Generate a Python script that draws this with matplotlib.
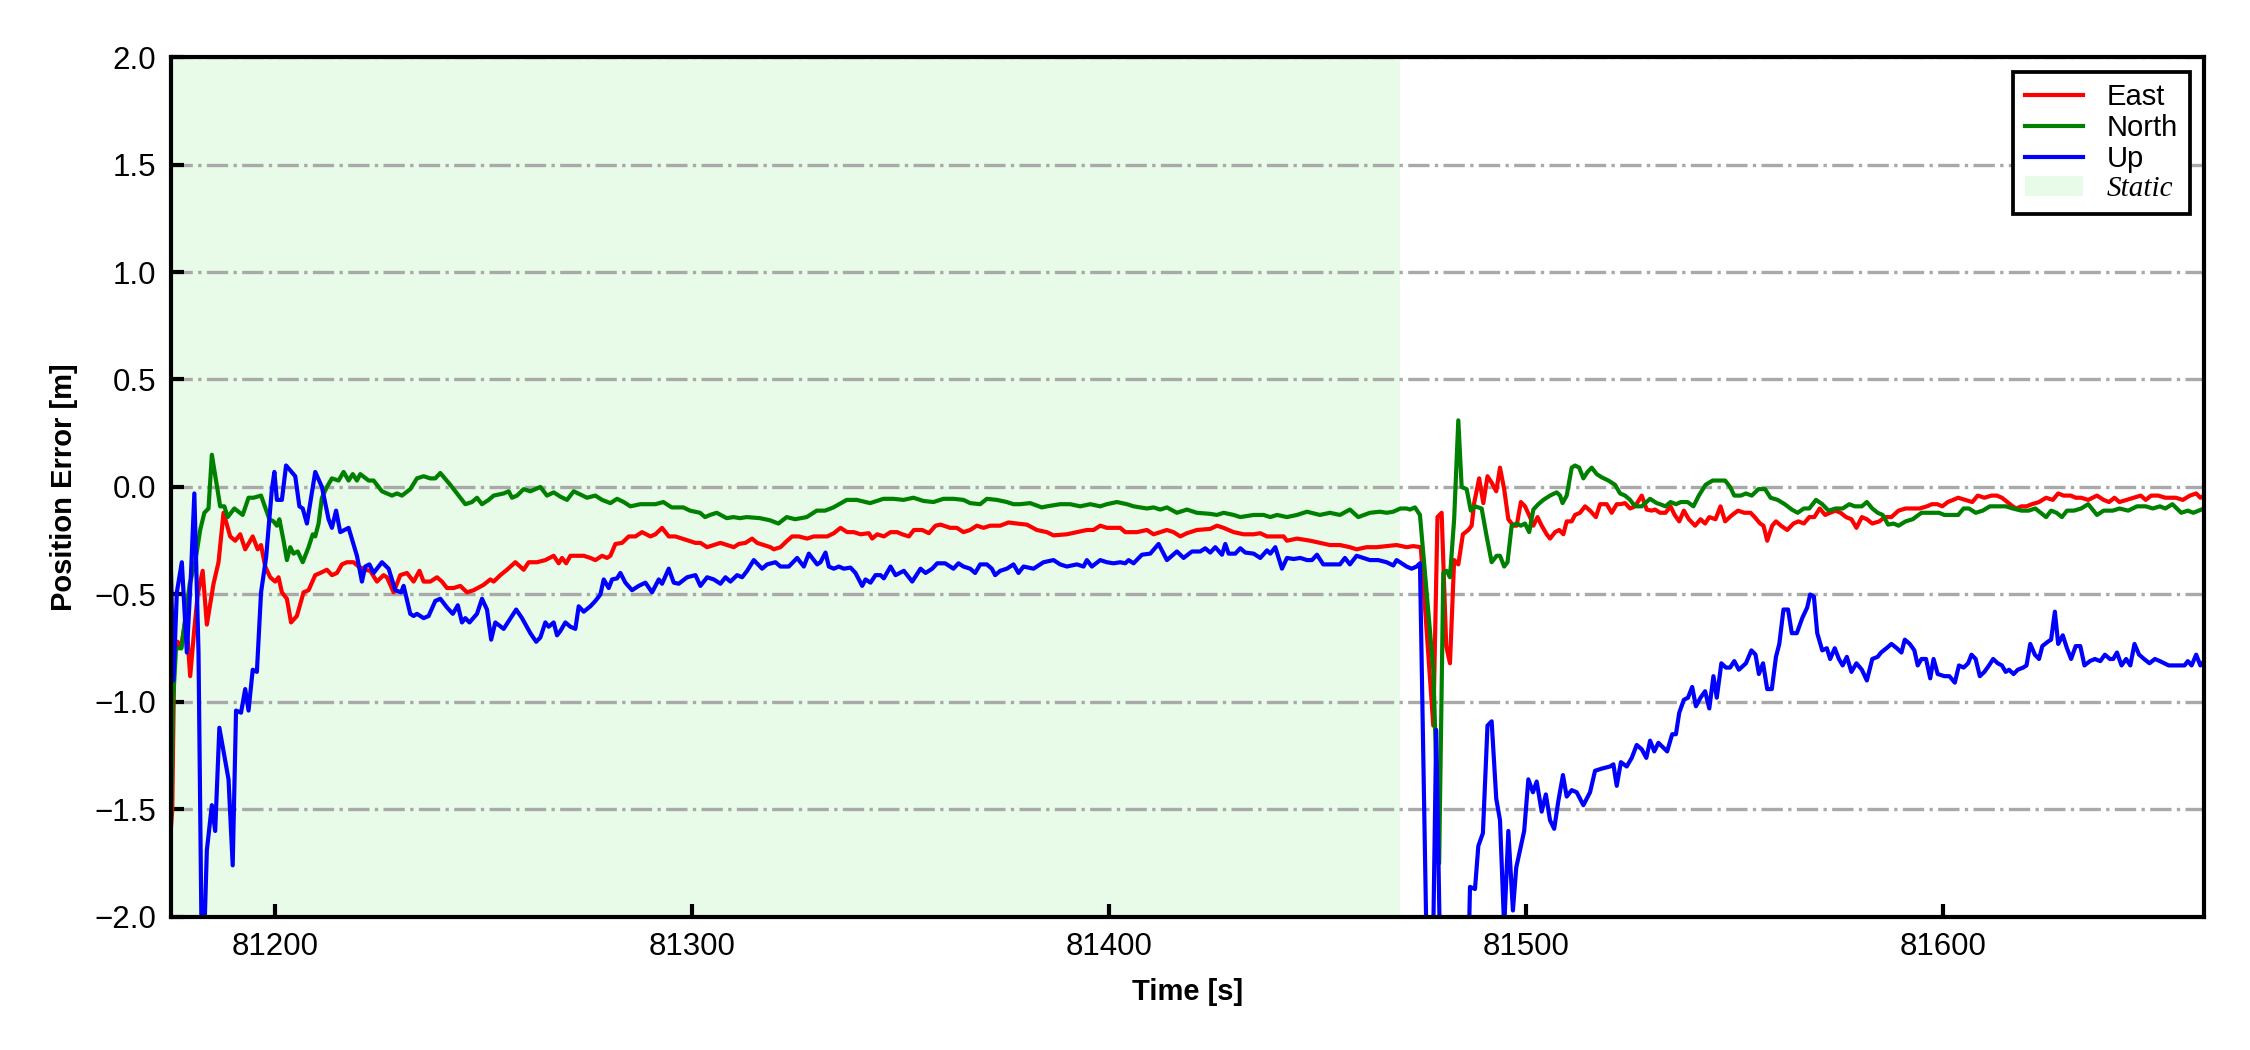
import matplotlib
matplotlib.use("Agg")
import matplotlib.pyplot as plt
from matplotlib.patches import Patch
from matplotlib.lines import Line2D

plt.rcParams["font.family"] = ["Liberation Sans", "DejaVu Sans"]

# ---- data ------------------------------------------------------------------
static_end = 81469.7

east_t = [
    81175.0, 81175.3, 81175.8, 81176.6, 81177.4, 81178.6, 81179.6, 81180.6, 81181.4, 81182.6,
    81183.6, 81185.2, 81186.4, 81187.6, 81189.2, 81190.4, 81191.6, 81192.8, 81194.6, 81195.8,
    81196.6, 81197.6, 81198.8, 81200.0, 81200.8, 81201.6, 81202.8, 81203.8, 81205.2, 81206.8,
    81208.0, 81209.6, 81210.8, 81212.4, 81213.6, 81214.8, 81216.0, 81217.2, 81218.8, 81220.0,
    81221.6, 81222.8, 81224.4, 81226.0, 81226.8, 81228.4, 81230.0, 81231.6, 81233.2, 81234.6,
    81235.6, 81237.2, 81238.8, 81240.0, 81241.2, 81242.8, 81244.4, 81246.0, 81247.6, 81250.0,
    81251.6, 81252.4, 81254.0, 81255.6, 81257.6, 81259.6, 81260.8, 81262.8, 81264.8, 81266.8,
    81268.0, 81268.8, 81269.8, 81270.8, 81272.4, 81274.0, 81275.6, 81276.8, 81278.4, 81279.6,
    81280.4, 81281.6, 81283.2, 81284.8, 81286.4, 81288.0, 81290.0, 81291.2, 81292.8, 81294.4,
    81296.0, 81297.6, 81299.2, 81300.8, 81302.0, 81303.6, 81305.2, 81306.8, 81308.4, 81310.0,
    81311.2, 81312.8, 81314.4, 81315.6, 81317.2, 81318.8, 81319.6, 81321.2, 81322.8, 81324.0,
    81325.6, 81327.6, 81329.2, 81330.8, 81332.4, 81334.0, 81335.6, 81337.2, 81338.8, 81340.4,
    81342.4, 81343.2, 81344.4, 81346.0, 81347.6, 81349.2, 81350.4, 81352.0, 81353.2, 81355.2,
    81356.8, 81358.4, 81359.6, 81361.9, 81363.5, 81365.1, 81366.7, 81368.3, 81369.9, 81371.5,
    81373.9, 81375.9, 81377.9, 81380.3, 81382.7, 81385.1, 81386.7, 81389.9, 81392.3, 81394.7,
    81396.3, 81397.9, 81399.5, 81402.7, 81403.9, 81406.7, 81409.1, 81410.7, 81412.3, 81413.9,
    81415.5, 81417.1, 81418.7, 81421.1, 81424.3, 81425.9, 81427.5, 81429.9, 81432.3, 81434.7,
    81436.3, 81437.9, 81440.3, 81441.9, 81442.7, 81445.1, 81448.3, 81450.6, 81453.0, 81455.4,
    81457.8, 81459.4, 81461.8, 81464.2, 81466.6, 81469.0, 81471.4, 81473.0, 81474.8, 81477.8,
    81478.8, 81479.8, 81480.9, 81481.8, 81482.8, 81483.8, 81484.9, 81486.2, 81487.0, 81487.6,
    81488.8, 81489.8, 81490.8, 81491.8, 81492.9, 81493.8, 81494.8, 81495.8, 81497.0, 81497.8,
    81498.8, 81499.8, 81501.0, 81501.8, 81502.8, 81503.8, 81505.0, 81505.8, 81507.0, 81508.0,
    81509.0, 81509.8, 81511.0, 81511.8, 81513.0, 81514.2, 81515.4, 81516.8, 81517.8, 81519.4,
    81520.6, 81521.8, 81522.7, 81523.8, 81525.0, 81526.2, 81527.8, 81529.0, 81530.2, 81531.0,
    81532.2, 81533.5, 81534.7, 81535.7, 81536.8, 81537.9, 81539.1, 81540.6, 81541.9, 81543.0,
    81544.0, 81545.5, 81546.7, 81547.8, 81549.5, 81550.9, 81552.4, 81553.9, 81554.9, 81556.2,
    81557.0, 81557.9, 81559.1, 81560.0, 81561.2, 81562.7, 81564.2, 81565.4, 81566.7, 81568.0,
    81569.2, 81570.5, 81571.8, 81573.0, 81574.3, 81575.5, 81576.8, 81578.1, 81579.3, 81580.6,
    81581.8, 81583.1, 81584.8, 81586.1, 81587.7, 81589.4, 81591.1, 81592.8, 81594.5, 81596.2,
    81597.4, 81598.7, 81599.9, 81601.2, 81602.5, 81603.7, 81605.4, 81607.1, 81608.4, 81610.0,
    81611.7, 81613.0, 81614.2, 81615.5, 81616.8, 81617.6, 81618.9, 81620.1, 81621.4, 81623.1,
    81624.8, 81626.4, 81627.7, 81629.0, 81630.7, 81631.9, 81633.2, 81634.9, 81637.0, 81638.6,
    81639.9, 81641.2, 81642.4, 81644.1, 81645.8, 81647.5, 81648.7, 81650.0, 81651.7, 81653.4,
    81654.6, 81655.9, 81657.6, 81659.3, 81660.8, 81661.8, 81662.7,
]
east = [
    -1.58, -1.50, -0.76, -0.72, -0.75, -0.60, -0.88, -0.66, -0.50, -0.39,
    -0.64, -0.45, -0.35, -0.12, -0.23, -0.25, -0.22, -0.29, -0.23, -0.29,
    -0.27, -0.37, -0.42, -0.44, -0.42, -0.49, -0.52, -0.63, -0.60, -0.49,
    -0.48, -0.41, -0.40, -0.385, -0.41, -0.40, -0.36, -0.35, -0.35, -0.37,
    -0.385, -0.39, -0.44, -0.41, -0.42, -0.49, -0.41, -0.40, -0.44, -0.39,
    -0.44, -0.44, -0.42, -0.44, -0.47, -0.47, -0.46, -0.49, -0.48, -0.455,
    -0.43, -0.44, -0.41, -0.385, -0.35, -0.385, -0.35, -0.35, -0.34, -0.32,
    -0.355, -0.33, -0.355, -0.32, -0.32, -0.32, -0.33, -0.34, -0.32, -0.33,
    -0.32, -0.265, -0.26, -0.23, -0.23, -0.21, -0.23, -0.22, -0.19, -0.23,
    -0.23, -0.24, -0.25, -0.26, -0.26, -0.28, -0.27, -0.26, -0.27, -0.28,
    -0.265, -0.26, -0.24, -0.26, -0.27, -0.28, -0.29, -0.28, -0.25, -0.23,
    -0.23, -0.24, -0.23, -0.23, -0.23, -0.215, -0.19, -0.21, -0.21, -0.22,
    -0.215, -0.24, -0.22, -0.23, -0.21, -0.21, -0.22, -0.23, -0.20, -0.20,
    -0.215, -0.18, -0.175, -0.19, -0.19, -0.21, -0.20, -0.18, -0.19, -0.18,
    -0.18, -0.165, -0.17, -0.175, -0.20, -0.21, -0.225, -0.22, -0.21, -0.20,
    -0.20, -0.18, -0.19, -0.19, -0.21, -0.21, -0.20, -0.22, -0.21, -0.20,
    -0.21, -0.23, -0.215, -0.20, -0.195, -0.18, -0.19, -0.21, -0.22, -0.22,
    -0.215, -0.23, -0.23, -0.23, -0.25, -0.24, -0.25, -0.26, -0.27, -0.27,
    -0.28, -0.29, -0.28, -0.28, -0.275, -0.27, -0.28, -0.275, -0.28, -1.11,
    -0.14, -0.12, -0.74, -0.82, -0.34, -0.36, -0.22, -0.20, -0.18, -0.075,
    0.04, -0.075, 0.05, 0.02, -0.02, 0.09, -0.01, -0.15, -0.18, -0.18,
    -0.07, -0.09, -0.14, -0.18, -0.14, -0.18, -0.22, -0.24, -0.21, -0.20,
    -0.22, -0.16, -0.16, -0.13, -0.12, -0.09, -0.11, -0.14, -0.08, -0.08,
    -0.12, -0.08, -0.08, -0.075, -0.10, -0.09, -0.04, -0.105, -0.11, -0.105,
    -0.12, -0.12, -0.09, -0.13, -0.16, -0.11, -0.15, -0.18, -0.15, -0.17,
    -0.14, -0.15, -0.09, -0.16, -0.13, -0.11, -0.12, -0.12, -0.14, -0.17,
    -0.18, -0.25, -0.18, -0.16, -0.18, -0.20, -0.17, -0.16, -0.17, -0.14,
    -0.14, -0.10, -0.13, -0.12, -0.11, -0.12, -0.14, -0.15, -0.19, -0.14,
    -0.15, -0.17, -0.16, -0.14, -0.14, -0.11, -0.10, -0.10, -0.10, -0.09,
    -0.08, -0.08, -0.09, -0.07, -0.06, -0.05, -0.06, -0.07, -0.04, -0.05,
    -0.04, -0.04, -0.05, -0.07, -0.09, -0.10, -0.09, -0.09, -0.08, -0.07,
    -0.05, -0.06, -0.03, -0.04, -0.04, -0.05, -0.05, -0.06, -0.04, -0.06,
    -0.07, -0.05, -0.07, -0.06, -0.05, -0.04, -0.06, -0.04, -0.04, -0.05,
    -0.05, -0.05, -0.06, -0.04, -0.03, -0.05, -0.04,
]

north_t = [
    81175.0, 81175.5, 81176.2, 81177.5, 81178.5, 81179.5, 81180.8, 81182.0, 81183.0, 81184.0,
    81184.8, 81185.8, 81186.8, 81187.8, 81188.6, 81190.2, 81192.2, 81193.6, 81194.8, 81196.6,
    81198.6, 81199.6, 81200.4, 81201.0, 81202.0, 81202.8, 81203.6, 81204.4, 81205.4, 81206.6,
    81208.0, 81209.0, 81209.6, 81210.4, 81211.2, 81212.4, 81213.6, 81215.2, 81216.4, 81217.6,
    81218.6, 81219.6, 81220.4, 81222.4, 81223.6, 81225.6, 81226.8, 81228.0, 81229.2, 81230.4,
    81232.4, 81234.0, 81235.6, 81237.2, 81238.4, 81239.6, 81242.0, 81244.0, 81245.6, 81247.2,
    81248.4, 81249.6, 81251.2, 81252.4, 81254.8, 81256.0, 81256.8, 81258.0, 81259.6, 81261.2,
    81263.6, 81265.2, 81266.8, 81268.4, 81270.0, 81271.6, 81273.2, 81274.8, 81276.8, 81278.4,
    81280.4, 81282.0, 81283.6, 81285.2, 81287.6, 81290.0, 81291.2, 81293.1, 81295.1, 81297.9,
    81299.5, 81301.9, 81303.1, 81304.3, 81305.9, 81308.3, 81309.9, 81311.5, 81313.1, 81316.3,
    81318.7, 81320.7, 81322.7, 81324.7, 81327.5, 81329.9, 81331.9, 81333.9, 81337.1, 81339.5,
    81342.7, 81345.9, 81348.3, 81350.7, 81353.1, 81355.5, 81357.9, 81360.3, 81362.7, 81365.1,
    81366.7, 81369.1, 81370.7, 81373.1, 81375.5, 81377.1, 81378.7, 81381.1, 81383.9, 81385.1,
    81388.3, 81390.7, 81393.1, 81395.5, 81397.9, 81399.5, 81401.9, 81404.3, 81405.9, 81409.1,
    81410.7, 81412.3, 81413.9, 81416.3, 81418.7, 81421.1, 81424.3, 81425.9, 81427.5, 81429.9,
    81431.5, 81434.7, 81437.1, 81438.7, 81440.3, 81442.7, 81445.1, 81447.5, 81450.6, 81453.0,
    81455.4, 81457.8, 81459.8, 81462.6, 81465.0, 81466.6, 81468.2, 81469.9, 81471.4, 81472.2,
    81473.4, 81474.6, 81477.8, 81479.2, 81480.2, 81481.0, 81481.8, 81482.8, 81483.8, 81484.6,
    81485.8, 81486.8, 81487.8, 81489.4, 81490.6, 81491.8, 81493.0, 81493.8, 81494.8, 81495.6,
    81496.6, 81497.8, 81498.8, 81499.8, 81500.8, 81501.8, 81503.0, 81504.2, 81505.8, 81507.4,
    81508.2, 81508.8, 81509.8, 81511.0, 81511.8, 81512.8, 81513.8, 81514.8, 81515.8, 81517.0,
    81518.2, 81519.8, 81521.4, 81522.6, 81523.8, 81525.0, 81525.8, 81526.6, 81527.8, 81529.8,
    81531.4, 81532.2, 81533.5, 81534.7, 81536.0, 81537.2, 81538.8, 81540.2, 81541.5, 81543.1,
    81544.8, 81546.5, 81547.8, 81549.0, 81550.0, 81551.6, 81552.8, 81554.2, 81555.8, 81557.4,
    81558.7, 81560.4, 81562.1, 81563.8, 81565.2, 81566.7, 81568.0, 81569.6, 81571.1, 81572.6,
    81574.3, 81576.0, 81577.6, 81578.9, 81580.6, 81581.8, 81583.1, 81584.4, 81585.6, 81586.9,
    81588.2, 81589.4, 81591.1, 81592.8, 81594.9, 81597.0, 81599.1, 81600.4, 81602.0, 81603.7,
    81605.0, 81606.3, 81607.9, 81609.6, 81611.3, 81613.4, 81615.1, 81616.8, 81618.9, 81620.6,
    81622.2, 81623.5, 81624.8, 81626.0, 81627.3, 81628.6, 81629.8, 81631.5, 81633.2, 81634.9,
    81637.0, 81638.6, 81640.8, 81642.4, 81644.5, 81646.6, 81648.7, 81650.4, 81652.1, 81653.4,
    81655.1, 81657.2, 81658.8, 81660.1, 81661.4, 81662.7,
]
north = [
    -1.55, -1.00, -0.75, -0.75, -0.60, -0.45, -0.35, -0.20, -0.12, -0.10,
    0.15, 0.03, -0.09, -0.09, -0.14, -0.10, -0.13, -0.05, -0.05, -0.04,
    -0.15, -0.16, -0.18, -0.15, -0.25, -0.34, -0.28, -0.31, -0.30, -0.35,
    -0.28, -0.22, -0.23, -0.17, -0.05, 0.00, 0.04, 0.03, 0.07, 0.03,
    0.06, 0.03, 0.06, 0.03, 0.03, -0.02, -0.03, -0.04, -0.03, -0.04,
    -0.01, 0.04, 0.05, 0.04, 0.04, 0.065, 0.01, -0.04, -0.08, -0.07,
    -0.05, -0.08, -0.06, -0.04, -0.03, -0.02, -0.05, -0.04, -0.01, -0.02,
    0.00, -0.04, -0.025, -0.045, -0.06, -0.02, -0.035, -0.05, -0.04, -0.06,
    -0.075, -0.055, -0.07, -0.09, -0.08, -0.08, -0.08, -0.07, -0.095, -0.095,
    -0.11, -0.12, -0.14, -0.13, -0.12, -0.145, -0.14, -0.145, -0.14, -0.145,
    -0.155, -0.17, -0.14, -0.15, -0.14, -0.11, -0.11, -0.095, -0.06, -0.06,
    -0.075, -0.055, -0.055, -0.06, -0.05, -0.065, -0.07, -0.055, -0.055, -0.06,
    -0.075, -0.08, -0.055, -0.06, -0.07, -0.08, -0.08, -0.075, -0.095, -0.09,
    -0.08, -0.08, -0.09, -0.08, -0.09, -0.08, -0.07, -0.08, -0.09, -0.10,
    -0.095, -0.105, -0.095, -0.12, -0.105, -0.12, -0.125, -0.13, -0.12, -0.13,
    -0.14, -0.13, -0.13, -0.14, -0.13, -0.14, -0.13, -0.115, -0.13, -0.12,
    -0.13, -0.105, -0.14, -0.12, -0.115, -0.12, -0.115, -0.10, -0.10, -0.105,
    -0.095, -0.13, -0.85, -1.75, -0.40, -0.39, -0.42, -0.15, 0.31, 0.00,
    -0.01, -0.11, -0.09, -0.10, -0.23, -0.35, -0.32, -0.32, -0.37, -0.35,
    -0.18, -0.17, -0.18, -0.17, -0.21, -0.105, -0.08, -0.06, -0.04, -0.025,
    -0.04, -0.075, -0.04, 0.09, 0.10, 0.09, 0.04, 0.07, 0.09, 0.06,
    0.045, 0.03, 0.01, -0.03, -0.04, -0.06, -0.08, -0.09, -0.09, -0.055,
    -0.075, -0.08, -0.09, -0.07, -0.08, -0.07, -0.07, -0.09, -0.04, 0.01,
    0.03, 0.03, 0.03, 0.00, -0.04, -0.04, -0.03, -0.04, -0.01, -0.01,
    -0.05, -0.06, -0.08, -0.105, -0.12, -0.10, -0.10, -0.06, -0.08, -0.11,
    -0.10, -0.10, -0.08, -0.09, -0.09, -0.07, -0.10, -0.12, -0.13, -0.175,
    -0.17, -0.18, -0.16, -0.15, -0.12, -0.12, -0.12, -0.13, -0.13, -0.13,
    -0.10, -0.10, -0.12, -0.11, -0.09, -0.09, -0.09, -0.10, -0.11, -0.11,
    -0.10, -0.12, -0.14, -0.11, -0.12, -0.14, -0.11, -0.11, -0.10, -0.08,
    -0.13, -0.11, -0.11, -0.10, -0.11, -0.09, -0.09, -0.10, -0.09, -0.10,
    -0.08, -0.12, -0.11, -0.12, -0.11, -0.10,
]

up_t = [
    81175.0, 81175.6, 81176.4, 81177.6, 81178.8, 81179.8, 81180.6, 81181.6, 81182.5, 81183.6,
    81184.8, 81185.6, 81186.6, 81188.8, 81189.8, 81190.6, 81191.8, 81192.8, 81193.6, 81194.6,
    81195.6, 81196.6, 81197.8, 81199.2, 81199.8, 81200.4, 81201.6, 81202.6, 81204.8, 81205.8,
    81206.6, 81207.6, 81209.6, 81211.2, 81212.8, 81213.6, 81214.6, 81215.6, 81217.6, 81219.6,
    81220.8, 81221.6, 81222.6, 81223.6, 81225.6, 81227.2, 81228.8, 81230.2, 81230.8, 81232.4,
    81233.2, 81234.0, 81235.6, 81236.8, 81238.4, 81239.6, 81241.2, 81242.6, 81243.8, 81244.8,
    81245.6, 81246.6, 81248.4, 81249.6, 81250.8, 81251.8, 81252.8, 81254.8, 81257.8, 81259.2,
    81261.2, 81262.6, 81263.6, 81264.8, 81265.6, 81266.8, 81267.6, 81268.4, 81269.6, 81270.8,
    81272.0, 81272.8, 81274.0, 81275.6, 81276.8, 81278.0, 81278.8, 81280.0, 81280.8, 81282.0,
    81282.8, 81284.0, 81285.6, 81287.2, 81288.8, 81290.4, 81292.0, 81292.8, 81294.4, 81295.6,
    81296.8, 81298.8, 81300.8, 81302.0, 81303.6, 81305.2, 81306.8, 81308.0, 81309.2, 81310.8,
    81312.0, 81313.2, 81314.8, 81316.8, 81318.0, 81320.0, 81321.2, 81323.2, 81325.2, 81326.8,
    81328.0, 81330.0, 81330.8, 81332.0, 81332.8, 81334.0, 81335.2, 81336.4, 81338.0, 81339.2,
    81340.8, 81341.6, 81342.8, 81344.0, 81345.2, 81346.0, 81347.6, 81348.8, 81350.8, 81352.8,
    81354.8, 81356.0, 81357.6, 81358.8, 81360.7, 81362.7, 81363.9, 81365.1, 81366.7, 81367.9,
    81369.1, 81370.7, 81371.9, 81372.7, 81373.9, 81375.5, 81377.1, 81378.3, 81379.5, 81381.9,
    81384.3, 81386.7, 81388.3, 81389.9, 81392.3, 81393.9, 81394.7, 81395.9, 81397.9, 81399.5,
    81401.1, 81402.7, 81403.9, 81404.7, 81405.9, 81407.9, 81409.9, 81411.9, 81413.9, 81416.3,
    81417.9, 81419.9, 81421.9, 81423.1, 81424.3, 81425.5, 81427.1, 81427.9, 81428.7, 81430.3,
    81431.5, 81432.7, 81434.7, 81436.3, 81437.9, 81438.7, 81439.9, 81441.5, 81442.7, 81444.3,
    81445.9, 81447.5, 81448.7, 81449.9, 81451.4, 81453.8, 81455.4, 81456.6, 81457.8, 81459.4,
    81461.0, 81462.6, 81464.6, 81466.6, 81468.2, 81469.0, 81470.2, 81471.4, 81472.6, 81473.8,
    81474.6, 81476.6, 81477.4, 81478.5, 81479.8, 81485.8, 81486.6, 81487.8, 81488.6, 81489.7,
    81490.8, 81491.8, 81492.9, 81493.8, 81494.8, 81495.8, 81496.9, 81497.7, 81498.6, 81499.6,
    81500.6, 81501.7, 81502.6, 81503.8, 81504.8, 81505.8, 81506.8, 81507.8, 81508.9, 81509.8,
    81511.0, 81512.2, 81513.8, 81515.4, 81516.6, 81518.2, 81520.2, 81521.0, 81521.8, 81522.8,
    81524.2, 81525.4, 81526.6, 81527.8, 81528.9, 81529.8, 81530.8, 81531.8, 81533.9, 81535.1,
    81536.0, 81536.8, 81537.9, 81538.9, 81539.9, 81540.8, 81541.9, 81543.0, 81544.0, 81545.0,
    81545.8, 81546.9, 81548.0, 81549.0, 81550.0, 81551.1, 81552.8, 81554.1, 81555.1, 81555.9,
    81556.9, 81557.9, 81559.0, 81560.0, 81560.8, 81561.8, 81562.9, 81563.8, 81565.0, 81566.3,
    81567.5, 81568.2, 81569.1, 81569.9, 81571.1, 81572.2, 81573.0, 81574.1, 81575.1, 81576.0,
    81577.0, 81578.1, 81579.3, 81580.6, 81581.8, 81583.1, 81584.4, 81585.2, 81586.5, 81587.7,
    81589.0, 81590.1, 81590.9, 81592.1, 81593.2, 81594.0, 81594.9, 81596.0, 81597.0, 81597.8,
    81598.8, 81600.4, 81601.6, 81602.9, 81603.9, 81605.0, 81606.1, 81606.9, 81607.9, 81608.9,
    81610.0, 81611.1, 81612.1, 81613.2, 81614.2, 81615.1, 81615.9, 81617.0, 81618.0, 81619.3,
    81620.1, 81621.0, 81622.1, 81623.1, 81623.9, 81625.2, 81626.0, 81626.9, 81627.7, 81628.8,
    81629.8, 81630.8, 81631.9, 81633.0, 81634.0, 81635.3, 81636.5, 81637.8, 81638.9, 81640.1,
    81640.9, 81641.8, 81642.9, 81644.0, 81645.0, 81646.0, 81647.1, 81648.3, 81649.6, 81650.9,
    81652.1, 81654.2, 81655.9, 81658.0, 81658.8, 81659.7, 81660.8, 81661.8, 81662.7,
]
up = [
    -0.40, -0.90, -0.49, -0.35, -0.77, -0.40, -0.03, -0.77, -2.40, -1.69,
    -1.48, -1.60, -1.12, -1.36, -1.76, -1.04, -1.05, -0.94, -1.04, -0.85,
    -0.86, -0.49, -0.33, -0.01, 0.07, -0.06, -0.06, 0.10, 0.05, -0.09,
    -0.10, -0.17, 0.07, 0.00, -0.15, -0.19, -0.11, -0.21, -0.19, -0.32,
    -0.44, -0.37, -0.36, -0.40, -0.35, -0.38, -0.48, -0.49, -0.46, -0.59,
    -0.60, -0.59, -0.61, -0.60, -0.53, -0.52, -0.56, -0.59, -0.55, -0.63,
    -0.61, -0.63, -0.59, -0.52, -0.57, -0.71, -0.63, -0.66, -0.57, -0.61,
    -0.68, -0.72, -0.70, -0.63, -0.65, -0.63, -0.69, -0.67, -0.63, -0.65,
    -0.66, -0.555, -0.58, -0.555, -0.53, -0.50, -0.43, -0.47, -0.43, -0.425,
    -0.40, -0.445, -0.48, -0.46, -0.445, -0.49, -0.43, -0.45, -0.38, -0.445,
    -0.45, -0.42, -0.41, -0.46, -0.42, -0.43, -0.45, -0.42, -0.44, -0.41,
    -0.42, -0.39, -0.34, -0.38, -0.36, -0.35, -0.37, -0.37, -0.33, -0.37,
    -0.31, -0.36, -0.35, -0.305, -0.37, -0.38, -0.37, -0.38, -0.375, -0.40,
    -0.46, -0.43, -0.445, -0.41, -0.41, -0.425, -0.37, -0.41, -0.39, -0.44,
    -0.38, -0.40, -0.38, -0.355, -0.355, -0.38, -0.355, -0.37, -0.38, -0.40,
    -0.36, -0.36, -0.38, -0.41, -0.39, -0.38, -0.36, -0.40, -0.37, -0.38,
    -0.35, -0.34, -0.36, -0.37, -0.36, -0.37, -0.34, -0.37, -0.34, -0.35,
    -0.355, -0.35, -0.355, -0.34, -0.355, -0.315, -0.31, -0.265, -0.34, -0.30,
    -0.33, -0.30, -0.30, -0.285, -0.305, -0.28, -0.315, -0.265, -0.31, -0.31,
    -0.285, -0.305, -0.31, -0.33, -0.295, -0.31, -0.28, -0.38, -0.33, -0.335,
    -0.33, -0.34, -0.34, -0.315, -0.36, -0.36, -0.36, -0.33, -0.36, -0.32,
    -0.33, -0.34, -0.34, -0.35, -0.365, -0.34, -0.355, -0.37, -0.38, -0.37,
    -0.355, -2.60, -2.60, -1.13, -2.60, -2.60, -1.86, -1.87, -1.67, -1.61,
    -1.11, -1.09, -1.45, -1.55, -2.05, -1.60, -1.97, -1.77, -1.69, -1.60,
    -1.36, -1.42, -1.37, -1.51, -1.43, -1.55, -1.59, -1.46, -1.34, -1.44,
    -1.41, -1.42, -1.48, -1.42, -1.32, -1.31, -1.30, -1.29, -1.39, -1.28,
    -1.30, -1.26, -1.20, -1.22, -1.26, -1.18, -1.23, -1.19, -1.23, -1.15,
    -1.15, -1.05, -0.99, -0.98, -0.93, -1.02, -0.98, -0.95, -1.03, -0.88,
    -0.98, -0.82, -0.84, -0.84, -0.81, -0.85, -0.82, -0.76, -0.78, -0.87,
    -0.82, -0.94, -0.94, -0.79, -0.73, -0.57, -0.57, -0.68, -0.68, -0.61,
    -0.56, -0.50, -0.51, -0.68, -0.76, -0.75, -0.80, -0.75, -0.80, -0.83,
    -0.79, -0.86, -0.82, -0.85, -0.90, -0.80, -0.79, -0.77, -0.75, -0.73,
    -0.75, -0.77, -0.71, -0.73, -0.76, -0.83, -0.80, -0.80, -0.89, -0.80,
    -0.87, -0.88, -0.88, -0.91, -0.83, -0.84, -0.82, -0.78, -0.80, -0.88,
    -0.86, -0.83, -0.80, -0.82, -0.83, -0.86, -0.85, -0.87, -0.85, -0.84,
    -0.83, -0.73, -0.78, -0.80, -0.74, -0.72, -0.71, -0.58, -0.73, -0.69,
    -0.75, -0.80, -0.74, -0.74, -0.83, -0.81, -0.80, -0.81, -0.78, -0.80,
    -0.80, -0.77, -0.83, -0.80, -0.83, -0.73, -0.78, -0.80, -0.82, -0.80,
    -0.81, -0.83, -0.83, -0.83, -0.81, -0.83, -0.78, -0.83, -0.81,
]

y_ticks = [-2.0, -1.5, -1.0, -0.5, 0.0, 0.5, 1.0, 1.5, 2.0]
x_ticks = [81200, 81300, 81400, 81500, 81600]

# ---- figure ------------------------------------------------------------------
fig, ax = plt.subplots(figsize=(7.5, 3.5), dpi=300)
fig.subplots_adjust(left=0.076, right=0.9796, top=0.9457, bottom=0.1267)

ax.axvspan(east_t[0], static_end, color="lightgreen", alpha=0.2, lw=0, zorder=0)
ax.plot(east_t, east, color="red", lw=1.0, label="East")
ax.plot(north_t, north, color="green", lw=1.0, label="North")
ax.plot(up_t, up, color="blue", lw=1.0, label="Up")

ax.set_xlim(east_t[0], east_t[-1])
ax.set_ylim(-2.0, 2.0)
ax.set_yticks(y_ticks)
ax.set_yticklabels([f"{v:.1f}".replace("-", "\u2212") for v in y_ticks])
ax.set_xticks(x_ticks)
ax.grid(axis="y", linestyle="-.", color="darkgray", lw=0.8)
ax.set_axisbelow(True)

ax.tick_params(direction="in", length=3.2, width=1.0, labelsize=7.5)
for s in ax.spines.values():
    s.set_linewidth(1.0)

ax.set_xlabel("Time [s]", fontsize=7, fontweight="bold")
ax.set_ylabel("Position Error [m]", fontsize=7, fontweight="bold")

handles = [
    Line2D([], [], color="red", lw=1.0),
    Line2D([], [], color="green", lw=1.0),
    Line2D([], [], color="blue", lw=1.0),
    Patch(facecolor="lightgreen", alpha=0.2, edgecolor="none"),
]
leg = ax.legend(handles, ["East", "North", "Up", "Static"], loc="upper right",
                fontsize=7, fancybox=False, framealpha=1, edgecolor="black",
                labelspacing=0.1)
leg.get_frame().set_linewidth(0.9)
leg.get_texts()[3].set_fontfamily(["Liberation Serif", "DejaVu Serif"])
leg.get_texts()[3].set_fontstyle("italic")

fig.savefig("out.png", dpi=300)
